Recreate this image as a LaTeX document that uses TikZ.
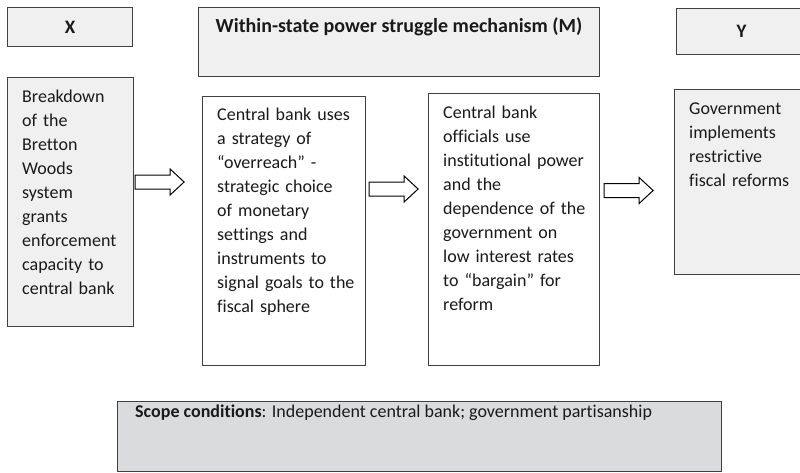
\documentclass[tikz,border=0pt]{standalone}
\usepackage{fontspec}
\setmainfont{Carlito}[Ligatures=NoCommon]
\definecolor{hdrfill}{HTML}{F0F0F0}
\definecolor{scopefill}{HTML}{DADBDD}
\definecolor{edge}{HTML}{404040}
\definecolor{ink}{HTML}{1A1A1A}
\begin{document}
\begin{tikzpicture}[x=1pt,y=-1pt,
  box/.style={draw=edge, line width=1.1pt, anchor=north west, inner sep=0pt, text=ink},
  hdr/.style={box, fill=hdrfill, font=\fontsize{19}{22}\selectfont\bfseries},
  bodytext/.style={anchor=base west, inner sep=0pt, text width=220pt, align=left, text=ink,
    font=\fontsize{18}{24}\selectfont},
  barrow/.style={draw=black, line width=1pt, fill=white, line join=miter}
]
\useasboundingbox (0,0) rectangle (800,472);
\clip (0,0) rectangle (800,472);

% header boxes
\node[hdr, minimum width=125pt, minimum height=39pt] (X) at (7,7) {X};
\node[hdr, minimum width=401pt, minimum height=69pt] (M) at (198,7) {};
\node[anchor=base, inner sep=0pt, text=ink, font=\fontsize{20}{24}\selectfont\bfseries]
  (Mlbl) at ([yshift=-25pt]M.north) {Within-state power struggle mechanism (M)};
\node[hdr, minimum width=140pt, minimum height=46pt] (Y) at (676,8) {\hspace*{-10pt}Y};

% body boxes
\node[box, fill=hdrfill, minimum width=126pt, minimum height=249pt] (B) at (7,77) {};
\node[box, fill=white, minimum width=163pt, minimum height=269pt] (C1) at (202,96) {};
\node[box, fill=white, minimum width=171pt, minimum height=272pt] (C2) at (428,93) {};
\node[box, fill=hdrfill, minimum width=140pt, minimum height=185pt] (YB) at (674,89) {};
\node[box, fill=scopefill, minimum width=604pt, minimum height=70pt] (S) at (117,401) {};

% texts
\node[bodytext] (Bt) at ([xshift=15pt,yshift=-25pt]B.north west)
  {Breakdown\\of the\\Bretton\\Woods\\system\\grants\\enforcement\\capacity to\\central bank};
\node[bodytext] (C1t) at ([xshift=15pt,yshift=-24pt]C1.north west)
  {Central bank uses\\a strategy of\\“overreach” -\\strategic choice\\of monetary\\settings and\\instruments to\\signal goals to the\\fiscal sphere};
\node[bodytext] (C2t) at ([xshift=15pt,yshift=-25pt]C2.north west)
  {Central bank\\officials use\\institutional power\\and the\\dependence of the\\government on\\low interest rates\\to “bargain” for\\reform};
\node[bodytext] (YBt) at ([xshift=15pt,yshift=-25pt]YB.north west)
  {Government\\implements\\restrictive\\fiscal reforms};
\node[anchor=base west, inner sep=0pt, text=ink, font=\fontsize{18}{22}\selectfont] (St)
  at ([xshift=18pt,yshift=-16pt]S.north west)
  {\textbf{Scope conditions}: Independent central bank; government partisanship};

% block arrows
\coordinate (a1) at ([xshift=1pt]B.east |- 0,182);
\coordinate (a2) at ([xshift=3pt]C1.east |- 0,189);
\coordinate (a3) at ([xshift=4pt]C2.east |- 0,190.5);
\foreach \a in {a1,a2,a3}{
  \draw[barrow] (\a) ++(0,-7) -- ++(35,0) -- ++(0,-6) -- ++(14,13) -- ++(-14,13) -- ++(0,-6) -- ++(-35,0) -- cycle;
}
\end{tikzpicture}
\end{document}
